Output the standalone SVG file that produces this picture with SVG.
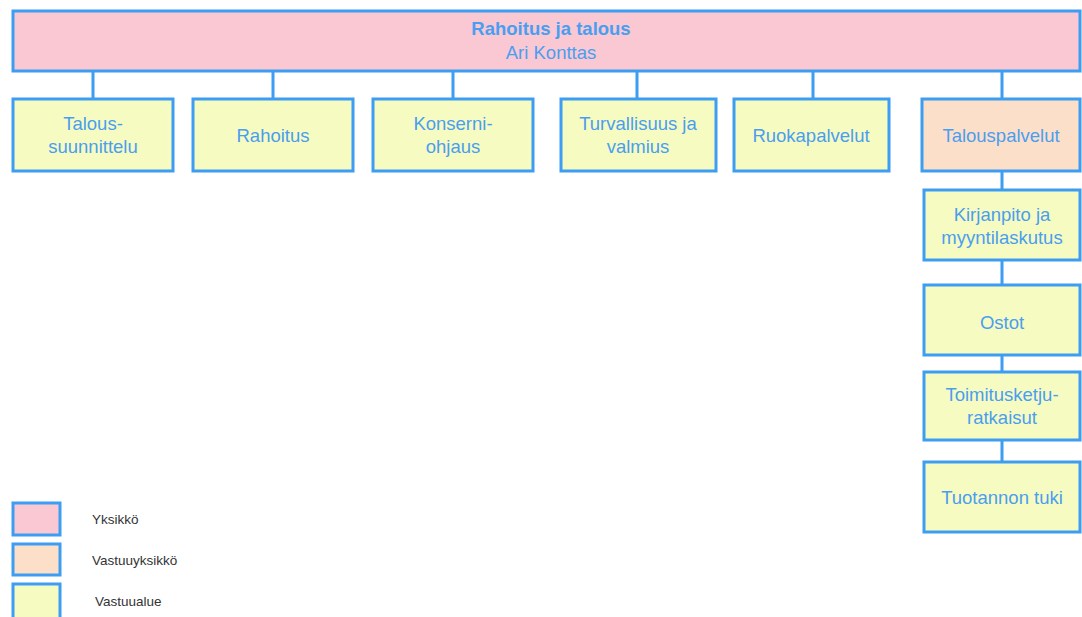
<svg xmlns="http://www.w3.org/2000/svg" width="1082" height="617" viewBox="0 0 1082 617">
<style>
.box{stroke:#3d9df2;stroke-width:3}
.unit{fill:#f9c8d3}
.resp{fill:#fcdfc8}
.area{fill:#f6fbc1}
.t{font-family:"Liberation Sans",Arial,sans-serif;font-size:18.5px;fill:#4a9ef0;text-anchor:middle}
.tb{font-weight:bold}
.lg{font-family:"Liberation Sans",Arial,sans-serif;font-size:13.5px;fill:#333}
.c{stroke:#3d9df2;stroke-width:3;fill:none}
</style>
<rect width="1082" height="617" fill="#ffffff"/>
<g id="connectors">
<path class="c" d="M93 71V99M273 71V99M453 71V99M637 71V99M813 71V99M1002 71V99"/>
<path class="c" d="M1002 171V190M1002 260V285M1002 355V372M1002 440V462"/>
</g>
<g id="n-root">
<rect class="box unit" x="13" y="11" width="1067" height="60"/>
<text class="t tb" x="551" y="35">Rahoitus ja talous</text>
<text class="t" x="551" y="59">Ari Konttas</text>
</g>
<g id="n-talous-suunnittelu">
<rect class="box area" x="13" y="99" width="160" height="72"/>
<text class="t" x="93" y="130">Talous-</text>
<text class="t" x="93" y="153">suunnittelu</text>
</g>
<g id="n-rahoitus">
<rect class="box area" x="193" y="99" width="160" height="72"/>
<text class="t" x="273" y="142">Rahoitus</text>
</g>
<g id="n-konserniohjaus">
<rect class="box area" x="373" y="99" width="160" height="72"/>
<text class="t" x="453" y="130">Konserni-</text>
<text class="t" x="453" y="153">ohjaus</text>
</g>
<g id="n-turvallisuus">
<rect class="box area" x="561" y="99" width="155" height="72"/>
<text class="t" x="638" y="130">Turvallisuus ja</text>
<text class="t" x="638" y="153">valmius</text>
</g>
<g id="n-ruokapalvelut">
<rect class="box area" x="734" y="99" width="155" height="72"/>
<text class="t" x="811" y="142">Ruokapalvelut</text>
</g>
<g id="n-talouspalvelut">
<rect class="box resp" x="922" y="99" width="158" height="72"/>
<text class="t" x="1001" y="142">Talouspalvelut</text>
</g>
<g id="n-kirjanpito">
<rect class="box area" x="924" y="190" width="156" height="70"/>
<text class="t" x="1002" y="221">Kirjanpito ja</text>
<text class="t" x="1002" y="244">myyntilaskutus</text>
</g>
<g id="n-ostot">
<rect class="box area" x="924" y="285" width="156" height="70"/>
<text class="t" x="1002" y="329">Ostot</text>
</g>
<g id="n-toimitusketju">
<rect class="box area" x="924" y="372" width="156" height="68"/>
<text class="t" x="1002" y="401">Toimitusketju-</text>
<text class="t" x="1002" y="424">ratkaisut</text>
</g>
<g id="n-tuotannon-tuki">
<rect class="box area" x="924" y="462" width="156" height="70"/>
<text class="t" x="1002" y="504">Tuotannon tuki</text>
</g>
<g id="legend">
<rect class="box unit" x="13" y="503" width="47" height="32"/>
<text class="lg" x="92" y="524">Yksikkö</text>
<rect class="box resp" x="13" y="544" width="47" height="31"/>
<text class="lg" x="92" y="565">Vastuuyksikkö</text>
<rect class="box area" x="13" y="584" width="47" height="35"/>
<text class="lg" x="95" y="606">Vastuualue</text>
</g>
</svg>
